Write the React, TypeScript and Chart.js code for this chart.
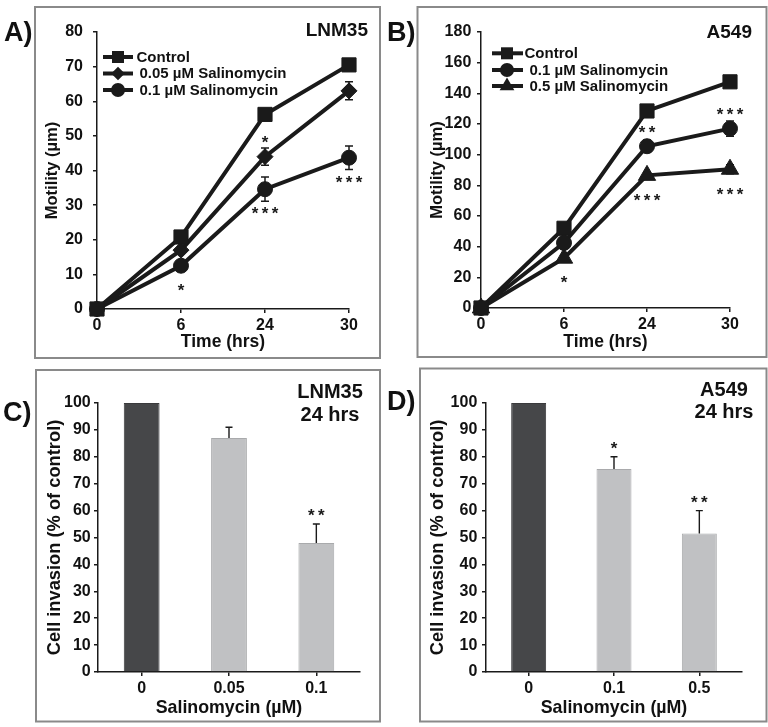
import React, { useEffect, useRef } from 'react';
import { Chart, registerables } from 'chart.js';

Chart.register(...registerables);
Chart.defaults.font.family = "'Liberation Sans', Arial, Helvetica, sans-serif";
Chart.defaults.font.weight = 'bold';
Chart.defaults.color = '#111';

// ---------- data ----------
const timeLabels = ['0', '6', '24', '30'];

// Panel A – LNM35 motility
const lnmSeriesLabels = ['Control', '0.05 µM Salinomycin', '0.1 µM Salinomycin'];
const lnmControl = [0, 20.8, 56.2, 70.5];
const lnm005 = [0, 17, 44, 63];
const lnm01 = [0, 12.5, 34.6, 43.7];
const lnmControlErr = [0, 0.8, 1, 1];
const lnm005Err = [0, 1, 2.5, 2.6];
const lnm01Err = [0, 1, 3.5, 3.4];
const lnm005Sig = ['', '', '*', ''];
const lnm01Sig = ['', '*', '***', '***'];

// Panel B – A549 motility
const a549SeriesLabels = ['Control', '0.1 µM Salinomycin', '0.5 µM Salinomycin'];
const a549Control = [0, 52, 128.5, 147.5];
const a54901 = [0, 42.5, 105.5, 117];
const a54905 = [0, 32.5, 86.5, 90.5];
const a549ControlErr = [0, 2, 2, 2];
const a54901Err = [0, 2, 4, 5];
const a54905Err = [0, 2, 2, 3];
const a54901Sig = ['', '', '**', '***'];
const a54905Sig = ['', '*', '***', '***'];

// Panel C – LNM35 invasion
const lnmDoseLabels = ['0', '0.05', '0.1'];
const lnmInvasion = [100, 87, 48];
const lnmInvasionErr = [0, 4, 7];
const lnmInvasionSig = ['', '', '**'];

// Panel D – A549 invasion
const a549DoseLabels = ['0', '0.1', '0.5'];
const a549Invasion = [100, 75.5, 51.5];
const a549InvasionErr = [0, 4.5, 8.5];
const a549InvasionSig = ['', '*', '**'];

// ---------- styling ----------
const INK = '#1a1a1a';
const DARK_BAR = '#464749';
const LIGHT_BAR = '#c0c1c3';
const FONT = "'Liberation Sans', Arial, Helvetica, sans-serif";
const TICK_SIZE = 16;

function drawShape(ctx: CanvasRenderingContext2D, style: string, x: number, y: number, r: number) {
  ctx.beginPath();
  if (style === 'rect') {
    const s = r * Math.SQRT1_2;
    ctx.rect(x - s, y - s, 2 * s, 2 * s);
  } else if (style === 'rectRot') {
    ctx.moveTo(x - r, y);
    ctx.lineTo(x, y - r);
    ctx.lineTo(x + r, y);
    ctx.lineTo(x, y + r);
    ctx.closePath();
  } else if (style === 'triangle') {
    ctx.moveTo(x, y - r);
    ctx.lineTo(x + 0.866 * r, y + 0.5 * r);
    ctx.lineTo(x - 0.866 * r, y + 0.5 * r);
    ctx.closePath();
  } else {
    ctx.arc(x, y, r, 0, Math.PI * 2);
  }
  ctx.fill();
}

function drawStars(ctx: CanvasRenderingContext2D, text: string, x: number, y: number) {
  ctx.save();
  ctx.font = `bold 17px ${FONT}`;
  ctx.fillStyle = '#1a1a1a';
  ctx.textAlign = 'center';
  ctx.textBaseline = 'alphabetic';
  const n = text.length;
  const sp = 10;
  for (let i = 0; i < n; i++) {
    ctx.fillText(text[i], x + (i - (n - 1) / 2) * sp, y + 9.8);
  }
  ctx.restore();
}

const decorPlugin = {
  id: 'decor',
  afterDraw(chart: any, _args: any, opts: any) {
    const ctx: CanvasRenderingContext2D = chart.ctx;
    ctx.save();
    if (opts.frame) {
      const [x1, y1, x2, y2] = opts.frame;
      ctx.strokeStyle = '#8a8a8a';
      ctx.lineWidth = 2;
      ctx.strokeRect(x1, y1, x2 - x1, y2 - y1);
    }
    if (opts.letter) {
      ctx.font = `bold 27px ${FONT}`;
      ctx.fillStyle = '#111';
      ctx.textAlign = 'left';
      ctx.textBaseline = 'middle';
      ctx.fillText(opts.letter.text, opts.letter.x, opts.letter.y);
    }
    if (opts.titles) {
      for (const t of opts.titles) {
        ctx.font = `bold ${t.size}px ${FONT}`;
        ctx.fillStyle = '#111';
        ctx.textAlign = t.align;
        ctx.textBaseline = 'middle';
        ctx.fillText(t.text, t.x, t.y);
      }
    }
    if (opts.legend) {
      const lg = opts.legend;
      chart.data.datasets.forEach((ds: any, i: number) => {
        const y = lg.rows[i];
        ctx.strokeStyle = INK;
        ctx.fillStyle = INK;
        ctx.lineWidth = 4;
        ctx.beginPath();
        ctx.moveTo(lg.x1, y);
        ctx.lineTo(lg.x2, y);
        ctx.stroke();
        drawShape(ctx, ds.pointStyle, lg.mx, y, lg.radii[i]);
        ctx.font = `bold 15px ${FONT}`;
        ctx.fillStyle = '#111';
        ctx.textAlign = 'left';
        ctx.textBaseline = 'middle';
        ctx.fillText(ds.label, lg.textX[i], y + 0.5);
      });
    }
    ctx.restore();
  },
};

const errorPlugin = {
  id: 'errbars',
  beforeDatasetsDraw(chart: any) {
    if (chart.config.type !== 'line') return;
    const ctx: CanvasRenderingContext2D = chart.ctx;
    const ys = chart.scales.y;
    ctx.save();
    ctx.strokeStyle = INK;
    ctx.lineWidth = 1.5;
    chart.data.datasets.forEach((ds: any, i: number) => {
      const meta = chart.getDatasetMeta(i);
      ds.data.forEach((v: number, j: number) => {
        const e = ds.errors ? ds.errors[j] : 0;
        if (!e) return;
        const x = meta.data[j].x;
        const yt = ys.getPixelForValue(v + e);
        const yb = ys.getPixelForValue(v - e);
        ctx.beginPath();
        ctx.moveTo(x, yt);
        ctx.lineTo(x, yb);
        ctx.moveTo(x - 4, yt);
        ctx.lineTo(x + 4, yt);
        ctx.moveTo(x - 4, yb);
        ctx.lineTo(x + 4, yb);
        ctx.stroke();
      });
    });
    ctx.restore();
  },
  afterDatasetsDraw(chart: any) {
    const ctx: CanvasRenderingContext2D = chart.ctx;
    const ys = chart.scales.y;
    const isBar = chart.config.type === 'bar';
    ctx.save();
    chart.data.datasets.forEach((ds: any, i: number) => {
      const meta = chart.getDatasetMeta(i);
      ds.data.forEach((v: number, j: number) => {
        const x = meta.data[j].x;
        const e = ds.errors ? ds.errors[j] : 0;
        if (isBar && e) {
          const yt = ys.getPixelForValue(v + e);
          const yb = ys.getPixelForValue(v);
          ctx.strokeStyle = INK;
          ctx.lineWidth = 1.4;
          ctx.beginPath();
          ctx.moveTo(x, yb);
          ctx.lineTo(x, yt);
          ctx.moveTo(x - 3.5, yt);
          ctx.lineTo(x + 3.5, yt);
          ctx.stroke();
        }
        const s = ds.sig ? ds.sig[j] : '';
        if (!s) return;
        if (isBar) {
          drawStars(ctx, s, x, ys.getPixelForValue(v + e) - 12.5);
        } else {
          const py = ys.getPixelForValue(v);
          const y = ds.sigSide === 'above' ? py - 18.5 : py + 20.5;
          drawStars(ctx, s, x, y);
        }
      });
    });
    ctx.restore();
  },
};

// ---------- chart factories ----------
function axisCommon() {
  return {
    grid: { drawOnChartArea: false, drawTicks: true, tickLength: 4, color: INK, lineWidth: 1.5 },
    border: { display: true, color: INK, width: 1.5 },
  };
}

function lineDataset(label: string, data: number[], errors: number[], style: string, radius: number, sig?: string[], sigSide?: string) {
  return {
    label,
    data,
    errors,
    sig,
    sigSide,
    borderColor: INK,
    backgroundColor: INK,
    borderWidth: 4,
    pointStyle: style,
    pointRadius: radius,
    pointBorderWidth: 1,
    pointBackgroundColor: INK,
    pointBorderColor: INK,
    tension: 0,
    clip: false,
  };
}

function lineConfig(p: any): any {
  return {
    type: 'line',
    data: { labels: timeLabels, datasets: p.datasets },
    plugins: [errorPlugin, decorPlugin],
    options: {
      responsive: false,
      animation: false,
      events: [],
      layout: { padding: p.padding },
      plugins: {
        legend: { display: false },
        tooltip: { enabled: false },
        decor: p.decor,
      },
      scales: {
        x: {
          type: 'category',
          offset: false,
          ...axisCommon(),
          ticks: { font: { size: TICK_SIZE, weight: 'bold' }, color: '#111', padding: 3.4, autoSkip: false, maxRotation: 0 },
          title: { display: true, text: 'Time (hrs)', color: '#111', font: { size: 17.5, weight: 'bold' }, padding: { top: 0, bottom: p.xTitlePad } },
          afterFit: (s: any) => { s.height = p.xHeight; },
        },
        y: {
          min: 0,
          max: p.yMax,
          ...axisCommon(),
          ticks: { stepSize: p.yStep, font: { size: TICK_SIZE, weight: 'bold' }, color: '#111', padding: p.yTickPad },
          title: { display: true, text: 'Motility (µm)', color: '#111', font: { size: 16.5, weight: 'bold' }, padding: { top: p.yTitlePad, bottom: 0 } },
          afterFit: (s: any) => { s.width = p.yWidth; },
        },
      },
    },
  };
}

function barConfig(p: any): any {
  return {
    type: 'bar',
    data: {
      labels: p.labels,
      datasets: [
        {
          label: 'Cell invasion',
          data: p.values,
          errors: p.errors,
          sig: p.sig,
          backgroundColor: [DARK_BAR, LIGHT_BAR, LIGHT_BAR],
          borderColor: ['#3a3a3c', '#a9aaac', '#a9aaac'],
          borderWidth: 1,
          barPercentage: 0.41,
          categoryPercentage: 1,
        },
      ],
    },
    plugins: [errorPlugin, decorPlugin],
    options: {
      responsive: false,
      animation: false,
      events: [],
      layout: { padding: p.padding },
      plugins: {
        legend: { display: false },
        tooltip: { enabled: false },
        decor: p.decor,
      },
      scales: {
        x: {
          offset: true,
          ...axisCommon(),
          grid: { ...axisCommon().grid, offset: false },
          ticks: { font: { size: TICK_SIZE, weight: 'bold' }, color: '#111', padding: 2.7, autoSkip: false, maxRotation: 0 },
          title: { display: true, text: 'Salinomycin (µM)', color: '#111', font: { size: 17.8, weight: 'bold' }, padding: { top: 0, bottom: 8.3 } },
          afterFit: (s: any) => { s.height = p.xHeight; },
        },
        y: {
          min: 0,
          max: 100,
          ...axisCommon(),
          ticks: { stepSize: 10, font: { size: TICK_SIZE, weight: 'bold' }, color: '#111', padding: p.yTickPad },
          title: { display: true, text: 'Cell invasion (% of control)', color: '#111', font: { size: 18.3, weight: 'bold' }, padding: { top: p.yTitlePad, bottom: 0 } },
          afterFit: (s: any) => { s.width = p.yWidth; },
        },
      },
    },
  };
}

const panelA = () =>
  lineConfig({
    datasets: [
      lineDataset(lnmSeriesLabels[0], lnmControl, lnmControlErr, 'rect', 10),
      lineDataset(lnmSeriesLabels[1], lnm005, lnm005Err, 'rectRot', 8, lnm005Sig, 'above'),
      lineDataset(lnmSeriesLabels[2], lnm01, lnm01Err, 'circle', 7.5, lnm01Sig, 'below'),
    ],
    padding: { left: 0, right: 35, top: 32, bottom: 0 },
    xHeight: 55,
    yWidth: 97,
    yMax: 80,
    yStep: 10,
    yTickPad: 10,
    yTitlePad: 43,
    xTitlePad: 11.5,
    decor: {
      frame: [35, 7, 380, 358],
      letter: { text: 'A)', x: 4, y: 34 },
      titles: [{ text: 'LNM35', x: 368, y: 31, align: 'right', size: 19 }],
      legend: { x1: 103, x2: 133, mx: 118, rows: [57, 73.5, 90], radii: [8.5, 6.8, 7], textX: [136.5, 139.5, 139.5] },
    },
  });

const panelB = () =>
  lineConfig({
    datasets: [
      lineDataset(a549SeriesLabels[0], a549Control, a549ControlErr, 'rect', 10),
      lineDataset(a549SeriesLabels[1], a54901, a54901Err, 'circle', 7.5, a54901Sig, 'above'),
      lineDataset(a549SeriesLabels[2], a54905, a54905Err, 'triangle', 10, a54905Sig, 'below'),
    ],
    padding: { left: 0, right: 38, top: 32, bottom: 0 },
    xHeight: 56,
    yWidth: 97,
    yMax: 180,
    yStep: 20,
    yTickPad: 5.7,
    yTitlePad: 43.4,
    xTitlePad: 11.8,
    decor: {
      frame: [33.5, 7, 382.5, 357],
      letter: { text: 'B)', x: 3, y: 34 },
      titles: [{ text: 'A549', x: 368, y: 32.5, align: 'right', size: 19 }],
      legend: { x1: 108, x2: 139, mx: 123, rows: [53.3, 70, 86], radii: [8.5, 7, 8.5], textX: [140.5, 145.5, 145.5] },
    },
  });

const panelC = () =>
  barConfig({
    labels: lnmDoseLabels,
    values: lnmInvasion,
    errors: lnmInvasionErr,
    sig: lnmInvasionSig,
    padding: { left: 0, right: 24, top: 39, bottom: 0 },
    xHeight: 55,
    yWidth: 98,
    yTickPad: 3.3,
    yTitlePad: 44,
    decor: {
      frame: [36, 6, 380, 357.5],
      letter: { text: 'C)', x: 3, y: 49.5 },
      titles: [
        { text: 'LNM35', x: 330, y: 28.5, align: 'center', size: 20 },
        { text: '24 hrs', x: 330, y: 51, align: 'center', size: 20 },
      ],
    },
  });

const panelD = () =>
  barConfig({
    labels: a549DoseLabels,
    values: a549Invasion,
    errors: a549InvasionErr,
    sig: a549InvasionSig,
    padding: { left: 0, right: 26, top: 39, bottom: 0 },
    xHeight: 55,
    yWidth: 102,
    yTickPad: 4.7,
    yTitlePad: 42.5,
    decor: {
      frame: [36, 4.5, 382.5, 357.5],
      letter: { text: 'D)', x: 3, y: 38.5 },
      titles: [
        { text: 'A549', x: 340, y: 26.5, align: 'center', size: 20 },
        { text: '24 hrs', x: 340, y: 48.5, align: 'center', size: 20 },
      ],
    },
  });

function Panel({ make, left, top, width, height }: { make: () => any; left: number; top: number; width: number; height: number }) {
  const ref = useRef<HTMLCanvasElement>(null);
  useEffect(() => {
    const chart = new Chart(ref.current as HTMLCanvasElement, make());
    return () => chart.destroy();
  }, [make]);
  return (
    <div style={{ position: 'absolute', left, top, width, height }}>
      <canvas ref={ref} width={width} height={height} />
    </div>
  );
}

export default function App() {
  return (
    <div style={{ position: 'absolute', left: 0, top: 0, width: 768, height: 727, background: '#fff', overflow: 'hidden' }}>
      <Panel make={panelA} left={0} top={0} width={384} height={364} />
      <Panel make={panelB} left={384} top={0} width={384} height={364} />
      <Panel make={panelC} left={0} top={364} width={384} height={363} />
      <Panel make={panelD} left={384} top={364} width={384} height={363} />
    </div>
  );
}
